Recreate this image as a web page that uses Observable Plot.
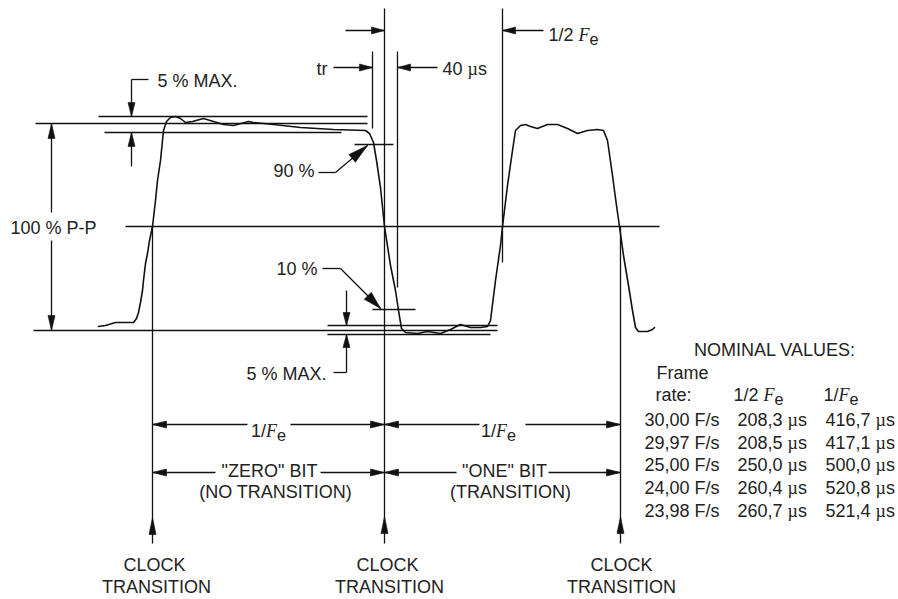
<!DOCTYPE html>
<html>
<head>
<meta charset="utf-8">
<script src="https://cdn.jsdelivr.net/npm/d3@7"></script>
<script src="https://cdn.jsdelivr.net/npm/@observablehq/plot@0.6"></script>
<style>
  html, body { margin: 0; padding: 0; background: #fff; }
  #chart svg { display: block; }
</style>
</head>
<body>
<div id="chart"></div>
<script>
// ---------- DATA (diagram coordinates: x to the right, y downward) ----------

// Time-code waveform trace: [x, y]
const waveform = [
  [98,326],[105,325],[115,322],[133,322],[136,318],[138,312],[140,302],[142,290],[143,280],
  [145,263],[147,253],[149,240],[152,226],[155,200],[157,180],[160,160],[162,140],[163,130],
  [166,121],[170,117],[175,116],[180,118],[185,122],[192,121],[203,118],[213,121],[223,124],
  [233,125],[248,121],[253,122],[273,124],[300,127],[333,129],[365,130],[369,133],[373,142],
  [376,160],[380,187],[384,226],[390,265],[395,290],[398,310],[401,328],[405,332],[417,333],
  [427,331],[440,333],[450,329],[460,324],[470,327],[480,327],[487,326],[490,320],[495,280],
  [500,245],[502,226],[507,185],[512,150],[515,130],[520,125],[525,124],[530,126],[537,128],
  [547,124],[557,124],[567,128],[577,133],[587,130],[597,129],[603,130],[607,140],[612,175],
  [616,205],[619,226],[623,255],[628,285],[632,310],[635,327],[638,331],[647,331],[652,329],[654,327]
];

// Reference levels (horizontal rules): [x1, x2, y]
const levelLines = [
  [35, 367, 123],   // 100 %
  [98, 367, 116],   // +5 % max
  [104, 341, 132],  // -5 % max
  [33, 497, 330],   // 0 %
  [327, 497, 325],
  [327, 490, 334],
  [125, 659, 226],  // 50 %
  [354, 393, 144],  // 90 %
  [372, 415, 309]   // 10 %
];

// Vertical rules: [x, y1, y2]
const verticalLines = [
  [152, 226, 543], [384, 8, 543], [620, 226, 543],  // clock transitions
  [372, 51, 128], [397, 51, 287], [502, 8, 262],
  [51, 124, 212], [51, 240, 330],                   // 100 % P-P
  [131, 79, 116], [131, 132, 166],                  // 5 % MAX (top)
  [346, 290, 325], [346, 334, 372]                  // 5 % MAX (bottom)
];

// Dimension / leader segments: [x1, y1, x2, y2]
const leaderLines = [
  [345, 30, 384, 30], [502, 30, 543, 30],
  [333, 67, 372, 67], [397, 67, 437, 67],
  [152, 424, 247, 424], [290, 424, 384, 424], [384, 424, 479, 424], [525, 424, 620, 424],
  [152, 472, 215, 472], [320, 472, 384, 472], [384, 472, 456, 472], [548, 472, 620, 472],
  [131, 79, 148, 79], [333, 372, 346, 372],
  [318, 172, 335, 172], [335, 172, 367, 145],
  [322, 268, 340, 268], [340, 268, 380, 308]
];

// Arrow heads: [tipX, tipY, angle (deg, 0 = pointing right, 90 = down), length, half-width]
const arrowHeads = [
  [384, 30, 0, 13, 3.5], [502, 30, 180, 13, 3.5],
  [372, 67, 0, 13, 3.5], [397, 67, 180, 13, 3.5],
  [152, 424, 180, 14, 3.5], [384, 424, 0, 14, 3.5], [384, 424, 180, 14, 3.5], [620, 424, 0, 14, 3.5],
  [152, 472, 180, 14, 3.5], [384, 472, 0, 14, 3.5], [384, 472, 180, 14, 3.5], [620, 472, 0, 14, 3.5],
  [51, 123, -90, 15, 3.5], [51, 330, 90, 15, 3.5],
  [131, 116, 90, 14, 3.5], [131, 132, -90, 14, 3.5],
  [346, 325, 90, 13, 3.5], [346, 334, -90, 13, 3.5],
  [152, 517, -90, 17, 3.5], [384, 516, -90, 17, 3.5], [620, 516, -90, 17, 3.5],
  [367, 145, -40, 20, 5], [380, 308, 45, 18, 5]
];

// Annotation labels: [x, y, text, anchor]
const labels = [
  [157, 81, "5 % MAX.", "start"],
  [316, 69, "tr", "start"],
  [442, 69, "40 µs", "start"],
  [548, 35, "1/2 Fe", "start"],
  [314, 171, "90 %", "end"],
  [10, 228, "100 % P-P", "start"],
  [317, 269, "10 %", "end"],
  [326, 374, "5 % MAX.", "end"],
  [268, 431, "1/Fe", "middle"],
  [498, 431, "1/Fe", "middle"],
  [269, 471, "\"ZERO\" BIT", "middle"],
  [504, 471, "\"ONE\" BIT", "middle"],
  [275, 492, "(NO TRANSITION)", "middle"],
  [510, 492, "(TRANSITION)", "middle"],
  [154, 565, "CLOCK", "middle"], [156, 587, "TRANSITION", "middle"],
  [387, 565, "CLOCK", "middle"], [389, 587, "TRANSITION", "middle"],
  [621, 565, "CLOCK", "middle"], [621, 587, "TRANSITION", "middle"]
];

// Nominal values table
const tableTitle = "NOMINAL VALUES:";
const tableHeader = ["Frame", "rate:", "1/2 Fe", "1/Fe"];
const frameRates = ["30,00 F/s", "29,97 F/s", "25,00 F/s", "24,00 F/s", "23,98 F/s"];
const halfPeriods = ["208,3 µs", "208,5 µs", "250,0 µs", "260,4 µs", "260,7 µs"];
const fullPeriods = ["416,7 µs", "417,1 µs", "500,0 µs", "520,8 µs", "521,4 µs"];

// ---------- BUILD ----------
const W = 898, H = 599;
const INK = "#111", TXT = "#222";
const FONT = "'Liberation Sans', Arial, Helvetica, sans-serif";
const FS = 18;

const hSegs = levelLines.map(([x1, x2, y]) => ({x1, y1: y, x2, y2: y}));
const vSegs = verticalLines.map(([x, y1, y2]) => ({x1: x, y1, x2: x, y2}));
const lSegs = leaderLines.map(([x1, y1, x2, y2]) => ({x1, y1, x2, y2}));

const tri = arrowHeads.flatMap(([x, y, a, L, w], i) => {
  const t = a * Math.PI / 180;
  const bx = x - L * Math.cos(t), by = y - L * Math.sin(t);
  const nx = -Math.sin(t) * w, ny = Math.cos(t) * w;
  return [
    {i, x, y}, {i, x: bx + nx, y: by + ny}, {i, x: bx - nx, y: by - ny}, {i, x, y}
  ];
});

const lab = labels.map(([x, y, text, anchor]) => ({x, y, text, anchor}));

const rowY0 = 419.7, rowStep = 22.7;
const table = [
  {x: 774, y: 350, text: tableTitle, anchor: "middle"},
  {x: 656, y: 372.5, text: tableHeader[0], anchor: "start"},
  {x: 655, y: 395, text: tableHeader[1], anchor: "start"},
  {x: 733, y: 395, text: tableHeader[2], anchor: "start"},
  {x: 823, y: 395, text: tableHeader[3], anchor: "start"},
  ...frameRates.map((t, i) => ({x: 644, y: rowY0 + i * rowStep, text: t, anchor: "start"})),
  ...halfPeriods.map((t, i) => ({x: 737, y: rowY0 + i * rowStep, text: t, anchor: "start"})),
  ...fullPeriods.map((t, i) => ({x: 825, y: rowY0 + i * rowStep, text: t, anchor: "start"}))
];
const allText = lab.concat(table);

const textMark = (anchor) => Plot.text(allText.filter(d => d.anchor === anchor), {
  x: "x", y: "y", text: "text", textAnchor: anchor, lineAnchor: "middle",
  fontSize: FS, fontFamily: FONT, fill: TXT
});

const segStyle = {x1: "x1", y1: "y1", x2: "x2", y2: "y2", stroke: INK, strokeWidth: 1.3};

const svg = Plot.plot({
  width: W, height: H, margin: 0,
  style: {background: "#fff", overflow: "visible"},
  x: {domain: [0, W], range: [0, W], axis: null},
  y: {domain: [0, H], range: [0, H], axis: null},
  marks: [
    Plot.link(hSegs, segStyle),
    Plot.link(vSegs, segStyle),
    Plot.link(lSegs, segStyle),
    Plot.line(waveform, {x: d => d[0], y: d => d[1], stroke: INK, strokeWidth: 1.6, strokeLinejoin: "round"}),
    Plot.line(tri, {x: "x", y: "y", z: "i", fill: INK, stroke: INK, strokeWidth: 0.6}),
    textMark("start"), textMark("middle"), textMark("end")
  ]
});

// Typeset "Fe" (italic serif F with lowered e) and a serif µ, keeping real text
const NS = "http://www.w3.org/2000/svg";
function typeset(el) {
  const s = el.textContent;
  if (!/Fe|µ/.test(s)) return;
  while (el.firstChild) el.removeChild(el.firstChild);
  const parts = s.split(/(Fe|µ)/).filter(p => p !== "");
  for (const p of parts) {
    if (p === "Fe") {
      const f = document.createElementNS(NS, "tspan");
      f.setAttribute("font-family", "'Liberation Serif', 'Times New Roman', serif");
      f.setAttribute("font-style", "italic");
      f.textContent = "F";
      el.appendChild(f);
      const e = document.createElementNS(NS, "tspan");
      e.setAttribute("font-size", "0.9em");
      e.setAttribute("dy", "0.22em");
      e.textContent = "e";
      el.appendChild(e);
    } else if (p === "µ") {
      const m = document.createElementNS(NS, "tspan");
      m.setAttribute("font-family", "'Liberation Serif', 'Times New Roman', serif");
      m.textContent = "µ";
      el.appendChild(m);
    } else {
      el.appendChild(document.createTextNode(p));
    }
  }
}
d3.select(svg).selectAll("text").each(function() {
  const tsp = this.querySelectorAll("tspan");
  if (tsp.length) tsp.forEach(typeset); else typeset(this);
});

document.getElementById("chart").appendChild(svg);
</script>
</body>
</html>
